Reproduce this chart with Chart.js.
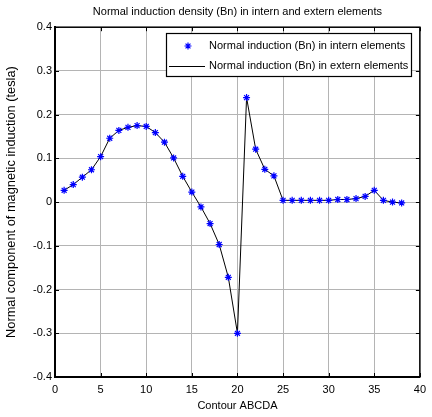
<!DOCTYPE html>
<html>
<head>
<meta charset="utf-8">
<script src="https://cdn.jsdelivr.net/npm/chart.js@4"></script>
<style>
  html, body { margin: 0; padding: 0; background: #fff; }
  #wrap { width: 432px; height: 417px; }
</style>
</head>
<body>
<div id="wrap"><canvas id="bn-chart" width="432" height="417"></canvas></div>
<script>
const FONT = "'Liberation Sans', Arial, sans-serif"

// contour positions along ABCDA and normal induction values (tesla)
const contourPos = [
  1, 2, 3, 4, 5, 6, 7, 8, 9, 10, 11, 12, 13, 14, 15, 16, 17, 18, 19,
  20, 21, 22, 23, 24, 25, 26, 27, 28, 29, 30, 31, 32, 33, 34, 35, 36, 37, 38,
]
const internBn = [
  0.027, 0.040, 0.057, 0.074, 0.104, 0.146, 0.164, 0.171, 0.175, 0.173,
  0.159, 0.137, 0.101, 0.059, 0.023, -0.011, -0.049, -0.097, -0.172, -0.300,
  0.239, 0.121, 0.075, 0.060, 0.004, 0.004, 0.004, 0.004, 0.004, 0.004,
  0.006, 0.006, 0.008, 0.013, 0.027, 0.004, 0.000, -0.002,
]
const externBn = internBn.slice()

const xTicks = [0, 5, 10, 15, 20, 25, 30, 35, 40]
const yTicks = [-0.4, -0.3, -0.2, -0.1, 0, 0.1, 0.2, 0.3, 0.4]

const toPoints = (ys) => contourPos.map((x, i) => ({ x, y: ys[i] }))

// axes box with inward tick marks, plus the boxed legend in the upper right
const frameAndLegend = {
  id: "frameAndLegend",
  afterDraw(chart) {
    const { ctx, chartArea: a, scales } = chart
    ctx.save()
    ctx.strokeStyle = "#000"
    ctx.lineWidth = 1
    ctx.beginPath()
    xTicks.forEach((v) => {
      const px = Math.round(scales.x.getPixelForValue(v)) + 0.5
      ctx.moveTo(px, a.top); ctx.lineTo(px, a.top + 4)
      ctx.moveTo(px, a.bottom); ctx.lineTo(px, a.bottom - 4)
    })
    yTicks.forEach((v) => {
      const py = Math.round(scales.y.getPixelForValue(v)) + 0.5
      ctx.moveTo(a.left, py); ctx.lineTo(a.left + 4, py)
      ctx.moveTo(a.right, py); ctx.lineTo(a.right - 4, py)
    })
    ctx.stroke()
    ctx.lineWidth = 1.5
    ctx.strokeRect(a.left, a.top, a.right - a.left, a.bottom - a.top)

    const box = { x: 166, y: 33, w: 245, h: 43 }
    ctx.fillStyle = "#fff"
    ctx.fillRect(box.x, box.y, box.w, box.h)
    ctx.lineWidth = 1.2
    ctx.strokeStyle = "#000"
    ctx.strokeRect(box.x + 0.5, box.y + 0.5, box.w, box.h)

    const ds = chart.data.datasets
    const rows = [box.y + 13, box.y + 33]
    ctx.font = "11px " + FONT
    ctx.textBaseline = "middle"
    ctx.fillStyle = "#000"
    ctx.fillText(ds[0].label, 209, rows[0])
    ctx.fillText(ds[1].label, 209, rows[1])

    // marker sample
    const mx = 188, my = rows[0], r = 3.5
    ctx.strokeStyle = "#0000ff"
    ctx.lineWidth = 1.2
    ctx.beginPath()
    ctx.moveTo(mx - r, my); ctx.lineTo(mx + r, my)
    ctx.moveTo(mx, my - r); ctx.lineTo(mx, my + r)
    const d = r * 0.7
    ctx.moveTo(mx - d, my - d); ctx.lineTo(mx + d, my + d)
    ctx.moveTo(mx - d, my + d); ctx.lineTo(mx + d, my - d)
    ctx.stroke()

    // line sample
    ctx.strokeStyle = "#000"
    ctx.lineWidth = 1
    ctx.beginPath()
    ctx.moveTo(169, rows[1] + 0.5); ctx.lineTo(205, rows[1] + 0.5)
    ctx.stroke()
    ctx.restore()
  },
}

new Chart(document.getElementById("bn-chart"), {
  type: "scatter",
  data: {
    datasets: [
      {
        label: "Normal induction (Bn) in intern elements",
        data: toPoints(internBn),
        showLine: false,
        pointStyle: "star",
        pointRadius: 3.5,
        pointBorderWidth: 1.2,
        pointBorderColor: "#0000ff",
        pointBackgroundColor: "#0000ff",
        order: 0,
      },
      {
        label: "Normal induction (Bn) in extern elements",
        data: toPoints(externBn),
        showLine: true,
        borderColor: "#000",
        borderWidth: 1,
        pointRadius: 0,
        tension: 0,
        order: 1,
      },
    ],
  },
  options: {
    responsive: false,
    animation: false,
    layout: { padding: { left: 0, right: 10, top: 0, bottom: 0 } },
    plugins: {
      legend: { display: false },
      tooltip: { enabled: false },
      title: {
        display: true,
        fullSize: false,
        text: "Normal induction density (Bn) in intern and extern elements",
        color: "#000",
        font: { family: FONT, size: 11, weight: "normal" },
        padding: { top: 5, bottom: 9 },
      },
    },
    scales: {
      x: {
        type: "linear",
        min: 0,
        max: 40,
        afterBuildTicks: (s) => { s.ticks = xTicks.map((value) => ({ value })) },
        afterFit: (s) => { s.height = 40 },
        ticks: {
          color: "#000",
          font: { family: FONT, size: 11 },
          padding: 6,
          maxRotation: 0,
        },
        grid: { color: "#b4b4b4", drawTicks: false },
        border: { color: "#000", width: 2 },
        title: {
          display: true,
          text: "Contour ABCDA",
          color: "#000",
          font: { family: FONT, size: 11 },
          padding: { top: 0, bottom: 4 },
        },
      },
      y: {
        type: "linear",
        min: -0.4,
        max: 0.4,
        afterBuildTicks: (s) => { s.ticks = yTicks.map((value) => ({ value })) },
        afterFit: (s) => { s.width = 55 },
        ticks: {
          color: "#000",
          font: { family: FONT, size: 11 },
          padding: 3,
          callback: (v) => String(Number(v.toFixed(1))),
        },
        grid: { color: "#b4b4b4", drawTicks: false },
        border: { color: "#000", width: 2 },
        title: {
          display: true,
          text: "Normal component of magnetic induction (tesla)",
          color: "#000",
          font: { family: FONT, size: 12.8 },
          padding: { top: 4, bottom: 0 },
        },
      },
    },
  },
  plugins: [frameAndLegend],
})
</script>
</body>
</html>
